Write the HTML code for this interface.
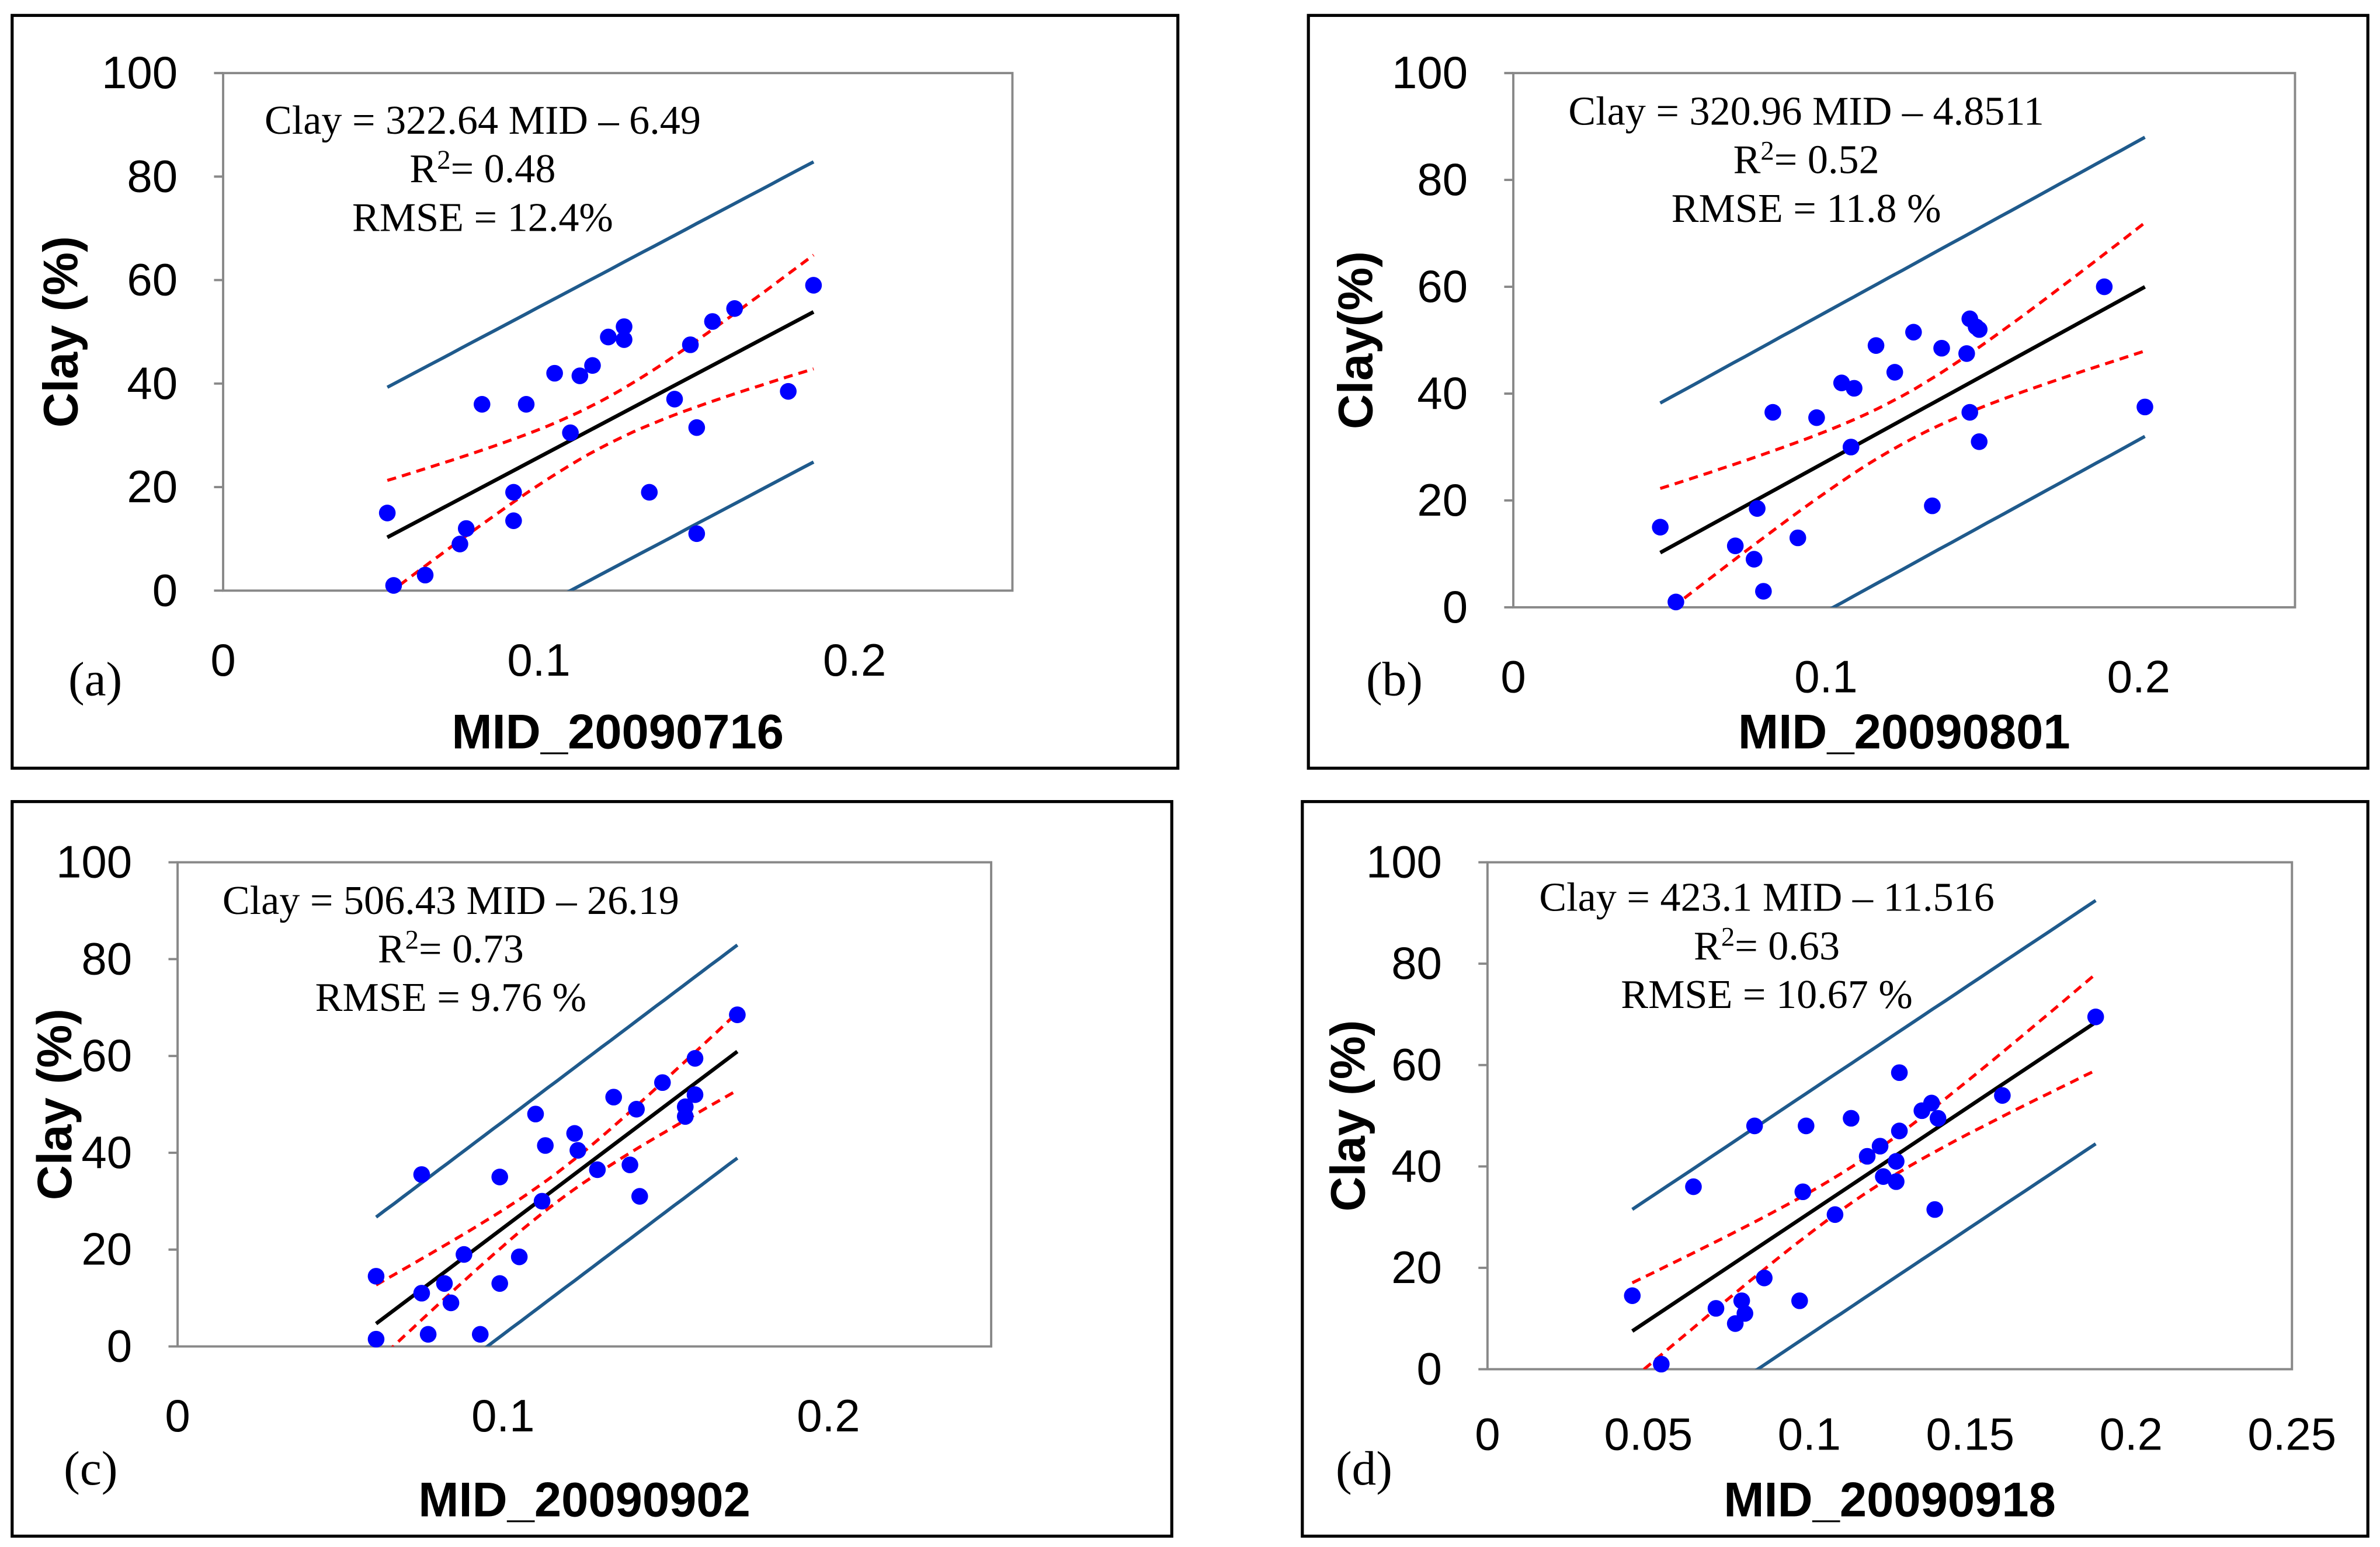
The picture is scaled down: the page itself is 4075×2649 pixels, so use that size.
<!DOCTYPE html>
<html><head><meta charset="utf-8"><style>
html,body{margin:0;padding:0;background:#fff}
svg{display:block}
text{font-family:"Liberation Sans",sans-serif}
.eq{font-family:"Liberation Serif",serif;font-size:27px}
.tick{font-size:30px}
.title{font-size:32px;font-weight:bold}
.plab{font-family:"Liberation Serif",serif;font-size:32px}
</style></head><body>
<svg id="fig" width="4075" height="2649" viewBox="0 0 1568 1019" xmlns="http://www.w3.org/2000/svg"></svg>
<script>
// Panel data
const xA=[0.052,0.054,0.064,0.075,0.077,0.082,0.092,0.092,0.096,0.105,0.110,0.113,0.117,0.122,0.127,0.127,0.135,0.143,0.148,0.150,0.150,0.155,0.162,0.179,0.187];
const yA=[15,1,3,9,12,36,19,13.5,36,42,30.5,41.5,43.5,49,51,48.5,19,37,47.5,31.5,11,52,54.5,38.5,59];
const xB=[0.047,0.052,0.071,0.077,0.078,0.080,0.083,0.091,0.097,0.105,0.108,0.109,0.116,0.122,0.128,0.134,0.137,0.145,0.146,0.146,0.148,0.149,0.149,0.189,0.202];
const yB=[15,1,11.5,9,18.5,3,36.5,13,35.5,42,30,41,49,44,51.5,19,48.5,47.5,54,36.5,52.5,31,52,60,37.5];
const xC=[0.061,0.061,0.075,0.075,0.077,0.082,0.084,0.088,0.093,0.099,0.099,0.105,0.110,0.112,0.113,0.122,0.123,0.129,0.134,0.139,0.141,0.142,0.149,0.156,0.156,0.159,0.159,0.172];
const yC=[14.5,1.5,35.5,11,2.5,13,9,19,2.5,35,13,18.5,48,30,41.5,44,40.5,36.5,51.5,37.5,49,31,54.5,47.5,49.5,59.5,52,68.5];
const xD=[0.045,0.054,0.064,0.071,0.077,0.079,0.080,0.083,0.086,0.097,0.098,0.099,0.108,0.113,0.118,0.122,0.123,0.127,0.127,0.128,0.128,0.135,0.138,0.139,0.140,0.160,0.189];
const yD=[14.5,1,36,12,9,13.5,11,48,18,13.5,35,48,30.5,49.5,42,44,38,41,37,47,58.5,51,52.5,31.5,49.5,54,69.5];
const slopes=[322.64,320.96,506.43,423.1];
const intercepts=[-6.49,-4.8511,-26.19,-11.516];
const predHalf=[29,28,22,24];
const confEnd=[11,12,8,9.5];
const confMid=[4.5,4.5,3,3.5];
const eqText=["Clay = 322.64 MID \u2013 6.49","Clay = 320.96 MID \u2013 4.8511","Clay = 506.43 MID \u2013 26.19","Clay = 423.1 MID \u2013 11.516"];
const r2Text=["0.48","0.52","0.73","0.63"];
const rmseText=["RMSE = 12.4%","RMSE = 11.8 %","RMSE = 9.76 %","RMSE = 10.67 %"];
const xTicksAB=["0","0.1","0.2"];
const xTicksD=["0","0.05","0.1","0.15","0.2","0.25"];
const yTicks=[0,20,40,60,80,100];
const titles=["MID_20090716","MID_20090801","MID_20090902","MID_20090918"];
const ytitles=["Clay (%)","Clay(%)","Clay (%)","Clay (%)"];
const plabels=["(a)","(b)","(c)","(d)"];

const layouts=[
 {box:[8,10,768,496],x0:147,x1:667,xmax:0.25,yTop:48,yBot:389,eq:[318,88],ytx:40,lab:[45,445]},
 {box:[862,10,698,496],x0:997,x1:1512,xmax:0.25,yTop:48,yBot:400,eq:[1190,82],ytx:893,lab:[900,445]},
 {box:[8,528,764,484],x0:117,x1:653,xmax:0.25,yTop:568,yBot:887,eq:[297,602],ytx:36,lab:[42,965]},
 {box:[858,528,702,484],x0:980,x1:1510,xmax:0.25,yTop:568,yBot:902,eq:[1164,600],ytx:888,lab:[880,965]}
];
const xsAll=[xA,xB,xC,xD], ysAll=[yA,yB,yC,yD];
const NS="http://www.w3.org/2000/svg";
const svg=document.getElementById('fig');
function mk(tag,attrs,parent){const e=document.createElementNS(NS,tag);for(const k in attrs)e.setAttribute(k,attrs[k]);(parent||svg).appendChild(e);return e;}

layouts.forEach((L,i)=>{
 const g=mk('g',{});
 
 
 const frame=mk('rect',{x:L.box[0],y:L.box[1],width:L.box[2],height:L.box[3],fill:'none',stroke:'#000','stroke-width':2},g);
 
 
 const sx=v=>L.x0+(v/L.xmax)*(L.x1-L.x0);
 const sy=v=>L.yBot-(v/100)*(L.yBot-L.yTop);
 const area=mk('rect',{x:L.x0,y:L.yTop,width:L.x1-L.x0,height:L.yBot-L.yTop,fill:'none',stroke:'#888','stroke-width':1.5},g);
 
 
 yTicks.forEach(t=>{
  mk('line',{x1:L.x0-6,x2:L.x0,y1:sy(t),y2:sy(t),stroke:'#888','stroke-width':1.5},g);
  const tx=mk('text',{x:L.x0-30,y:sy(t)+10,'text-anchor':'end',class:'tick'},g);
  tx.textContent=t;
  
  
 });
 const xt = i===3 ? xTicksD : xTicksAB;
 xt.forEach(t=>{
  const tx=mk('text',{x:sx(parseFloat(t)),y:L.yBot+(i===3?53:56),'text-anchor':'middle',class:'tick'},g);
  tx.textContent=t;
  
  
 });
 const cp=mk('clipPath',{id:'cp'+i},g);
 mk('rect',{x:L.x0,y:L.yTop,width:L.x1-L.x0,height:L.yBot-L.yTop},cp);
 const xs=xsAll[i], ys=ysAll[i];
 const xmin=Math.min(...xs), xmx=Math.max(...xs), xm=(xmin+xmx)/2, hr=(xmx-xmin)/2;
 const f=x=>slopes[i]*x+intercepts[i];
 const N=40, pts=[];
 for(let k=0;k<=N;k++)pts.push(xmin+(xmx-xmin)*k/N);
 const path=fn=>pts.map((x,k)=>(k?'L':'M')+sx(x).toFixed(1)+','+sy(fn(x)).toFixed(1)).join(' ');
 const conf=x=>{const u=(x-xm)/hr;return Math.sqrt(confMid[i]**2+(confEnd[i]**2-confMid[i]**2)*u*u);};
 const pg=mk('g',{'clip-path':'url(#cp'+i+')'},g);
 [[x=>f(x)+predHalf[i],'pred-upper'],[x=>f(x)-predHalf[i],'pred-lower']].forEach(([fn,n])=>{
  const p=mk('path',{d:path(fn),fill:'none',stroke:'#1f5a8c','stroke-width':2.2},pg);
  
  
 });
 [[x=>f(x)+conf(x),'conf-upper'],[x=>f(x)-conf(x),'conf-lower']].forEach(([fn,n])=>{
  const p=mk('path',{d:path(fn),fill:'none',stroke:'#ff0000','stroke-width':2,'stroke-dasharray':'6,4'},pg);
  
  
 });
 const fl=mk('line',{x1:sx(xmin),y1:sy(f(xmin)),x2:sx(xmx),y2:sy(f(xmx)),stroke:'#000','stroke-width':2.5},pg);
 
 
 xs.forEach((x,k)=>{
  const c=mk('circle',{cx:sx(x),cy:sy(ys[k]),r:5.5,fill:'#0000ff'},g);
  
  
 });
 const e1=mk('text',{x:L.eq[0],y:L.eq[1],'text-anchor':'middle',class:'eq'},g);
 e1.textContent=eqText[i];
 
 
 const e2=mk('text',{x:L.eq[0],y:L.eq[1]+32,'text-anchor':'middle',class:'eq'},g);
 e2.innerHTML='R<tspan dy="-9" font-size="18">2</tspan><tspan dy="9">= '+r2Text[i]+'</tspan>';
 
 
 const e3=mk('text',{x:L.eq[0],y:L.eq[1]+64,'text-anchor':'middle',class:'eq'},g);
 e3.textContent=rmseText[i];
 
 
 const xtl=mk('text',{x:(L.x0+L.x1)/2,y:L.box[1]+L.box[3]-13,'text-anchor':'middle',class:'title'},g);
 xtl.textContent=titles[i];
 
 
 const cy=(L.yTop+L.yBot)/2;
 const ytl=mk('text',{x:L.ytx+11,y:cy,'text-anchor':'middle',class:'title',transform:'rotate(-90 '+(L.ytx+11)+' '+cy+')'},g);
 ytl.textContent=ytitles[i];
 
 
 const pl=mk('text',{x:L.lab[0],y:L.lab[1]+13,class:'plab'},g);
 pl.textContent=plabels[i];
 
 
});
</script>
</body></html>
